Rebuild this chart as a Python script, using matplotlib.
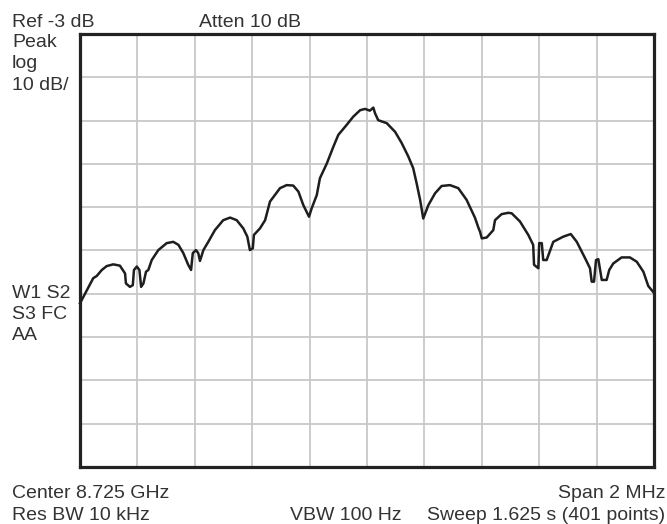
import numpy as np
import matplotlib.pyplot as plt

plt.rcParams['font.family'] = ['Liberation Sans', 'DejaVu Sans']

# analyzer settings
ref_level = -3.0      # dBm, top graticule line
db_per_div = 10.0
n_div = 10

# trace: offset from centre (MHz) and level (dBm)
freq_mhz = [-1.000, -0.954, -0.942, -0.924, -0.907, -0.884, -0.861, -0.843, -0.840, -0.826,
            -0.816, -0.812, -0.802, -0.793, -0.787, -0.779, -0.770, -0.762, -0.750, -0.727,
            -0.698, -0.675, -0.657, -0.640, -0.623, -0.613, -0.607, -0.596, -0.588, -0.582,
            -0.570, -0.553, -0.530, -0.501, -0.477, -0.454, -0.431, -0.417, -0.408, -0.398,
            -0.394, -0.373, -0.355, -0.338, -0.303, -0.280, -0.257, -0.239, -0.222, -0.202,
            -0.193, -0.175, -0.164, -0.140, -0.117, -0.100, -0.071, -0.048, -0.024, -0.007,
            0.010, 0.022, 0.028, 0.039, 0.069, 0.098, 0.121, 0.144, 0.161, 0.173,
            0.185, 0.196, 0.214, 0.237, 0.260, 0.289, 0.318, 0.347, 0.376, 0.388,
            0.394, 0.400, 0.417, 0.440, 0.446, 0.469, 0.492, 0.504, 0.533, 0.562,
            0.579, 0.582, 0.597, 0.600, 0.609, 0.614, 0.626, 0.649, 0.684, 0.710,
            0.731, 0.760, 0.777, 0.783, 0.791, 0.798, 0.806, 0.818, 0.835, 0.844,
            0.858, 0.887, 0.916, 0.940, 0.963, 0.980, 1.000]
level_dbm = [-65.2, -59.4, -58.9, -57.5, -56.6, -56.2, -56.5, -58.3, -60.6, -61.4,
             -61.0, -57.5, -56.7, -57.5, -61.4, -60.6, -57.9, -57.5, -55.2, -52.9,
             -51.3, -51.0, -51.7, -53.6, -56.3, -57.5, -53.6, -52.9, -53.6, -55.4,
             -52.9, -51.0, -48.3, -46.0, -45.4, -46.0, -47.9, -49.8, -52.9, -52.5,
             -49.4, -47.9, -46.0, -41.7, -38.6, -37.9, -38.0, -39.4, -42.5, -45.2,
             -43.3, -40.2, -36.3, -32.9, -29.0, -26.3, -24.0, -22.1, -20.6, -20.3,
             -20.7, -20.0, -21.3, -22.9, -23.6, -25.6, -28.2, -31.3, -34.0, -37.5,
             -41.3, -45.6, -42.5, -39.8, -38.1, -37.9, -38.6, -41.3, -45.4, -47.7,
             -48.7, -50.2, -50.0, -48.3, -46.0, -44.6, -44.3, -44.4, -46.3, -49.4,
             -51.7, -56.3, -57.1, -51.3, -51.3, -55.2, -55.2, -51.0, -49.8, -49.2,
             -51.0, -54.8, -57.1, -60.2, -60.2, -55.2, -55.0, -59.8, -59.8, -57.5,
             -56.0, -54.6, -54.6, -55.6, -57.9, -61.2, -62.8]

W, H = 667, 524
fig = plt.figure(figsize=(W / 100, H / 100), dpi=100)
ax = fig.add_axes([80 / W, 1 - 467 / H, 574 / W, 433 / H])

bottom = ref_level - n_div * db_per_div
ax.set_xlim(-1, 1)
ax.set_ylim(bottom, ref_level)
ax.set_xticks(np.linspace(-1, 1, n_div + 1))
ax.set_yticks(np.linspace(bottom, ref_level, n_div + 1))
ax.grid(True, color='#c8c8c8', linewidth=1.3)
ax.tick_params(length=0, labelbottom=False, labelleft=False)
for s in ax.spines.values():
    s.set_linewidth(2.3)
    s.set_color('#222222')

ax.plot(freq_mhz, level_dbm, color='#1e1e1e', linewidth=1.8,
        solid_joinstyle='round', clip_on=False, zorder=3)

# annotations around the graticule, placed in pixels
txt = dict(fontsize=14, color='#333333', va='baseline')


def put(x, y, s, ha='left'):
    fig.text(x / W, 1 - y / H, s, ha=ha, **txt)


put(12, 27, 'Ref -3 dB')
put(199, 27, 'Atten 10 dB')
put(12, 47, 'Peak')
put(12, 68.5, 'log')
put(12, 90, '10 dB/')
put(12, 298, 'W1 S2')
put(12, 319, 'S3 FC')
put(12, 340, 'AA')
put(12, 498, 'Center 8.725 GHz')
put(12, 520, 'Res BW 10 kHz')
put(290, 520, 'VBW 100 Hz')
put(665, 498, 'Span 2 MHz', ha='right')
put(665, 520, 'Sweep 1.625 s (401 points)', ha='right')

fig.savefig('out.png', dpi=100)
